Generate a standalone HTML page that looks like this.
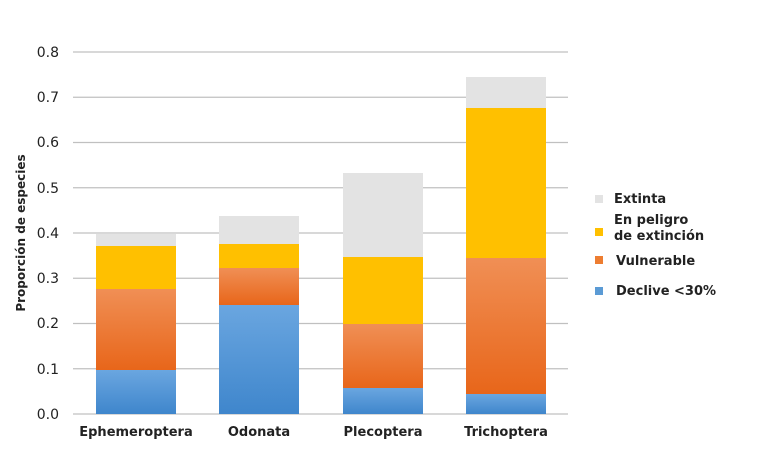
<!DOCTYPE html>
<html><head><meta charset="utf-8"><style>
body{margin:0;background:#fff}
svg{display:block;font-family:"DejaVu Sans","Liberation Sans",sans-serif}
</style></head><body>
<svg width="760" height="460" viewBox="0 0 760 460">
<defs>
<linearGradient id="b" x1="0" y1="0" x2="0" y2="1"><stop offset="0" stop-color="#6aa6e0"/><stop offset="1" stop-color="#3f86cc"/></linearGradient>
<linearGradient id="o" x1="0" y1="0" x2="0" y2="1"><stop offset="0" stop-color="#f08f55"/><stop offset="1" stop-color="#e8661a"/></linearGradient>
</defs>
<g stroke="#c0c0c0" stroke-width="1.3">
<line x1="73" y1="52" x2="568" y2="52"/><line x1="73" y1="97.25" x2="568" y2="97.25"/>
<line x1="73" y1="142.5" x2="568" y2="142.5"/><line x1="73" y1="187.75" x2="568" y2="187.75"/>
<line x1="73" y1="233" x2="568" y2="233"/><line x1="73" y1="278.25" x2="568" y2="278.25"/>
<line x1="73" y1="323.5" x2="568" y2="323.5"/><line x1="73" y1="368.75" x2="568" y2="368.75"/>
<line x1="73" y1="414" x2="568" y2="414"/>
</g>
<g font-size="14" fill="#222" text-anchor="end">
<text x="59" y="57">0.8</text><text x="59" y="102">0.7</text><text x="59" y="147">0.6</text><text x="59" y="193">0.5</text><text x="59" y="238">0.4</text><text x="59" y="283">0.3</text><text x="59" y="328">0.2</text><text x="59" y="374">0.1</text><text x="59" y="419">0.0</text>
</g>
<text transform="translate(25,233) rotate(-90)" font-size="12" font-weight="bold" fill="#222" text-anchor="middle">Proporción de especies</text>
<rect x="96" y="234" width="80" height="12" fill="#e3e3e3"/>
<rect x="96" y="246" width="80" height="43" fill="#ffc000"/>
<rect x="96" y="289" width="80" height="81" fill="url(#o)"/>
<rect x="96" y="370" width="80" height="44" fill="url(#b)"/>
<rect x="219" y="216" width="80" height="28" fill="#e3e3e3"/>
<rect x="219" y="244" width="80" height="24" fill="#ffc000"/>
<rect x="219" y="268" width="80" height="37" fill="url(#o)"/>
<rect x="219" y="305" width="80" height="109" fill="url(#b)"/>
<rect x="343" y="173" width="80" height="84" fill="#e3e3e3"/>
<rect x="343" y="257" width="80" height="67" fill="#ffc000"/>
<rect x="343" y="324" width="80" height="64" fill="url(#o)"/>
<rect x="343" y="388" width="80" height="26" fill="url(#b)"/>
<rect x="466" y="77" width="80" height="31" fill="#e3e3e3"/>
<rect x="466" y="108" width="80" height="150" fill="#ffc000"/>
<rect x="466" y="258" width="80" height="136" fill="url(#o)"/>
<rect x="466" y="394" width="80" height="20" fill="url(#b)"/>
<g font-size="13" font-weight="bold" fill="#222" text-anchor="middle">
<text x="136" y="436">Ephemeroptera</text><text x="259" y="436">Odonata</text><text x="383" y="436">Plecoptera</text><text x="506" y="436">Trichoptera</text>
</g>
<rect x="595" y="195" width="8" height="8" fill="#e3e3e3"/>
<rect x="595" y="228" width="8" height="8" fill="#ffc000"/>
<rect x="595" y="256" width="8" height="8" fill="#ed7d31"/>
<rect x="595" y="287" width="8" height="8" fill="#5b9bd5"/>
<g font-size="13" font-weight="bold" fill="#222">
<text x="614" y="203">Extinta</text>
<text x="614" y="224">En peligro</text><text x="614" y="240">de extinción</text>
<text x="616" y="265">Vulnerable</text>
<text x="616" y="295">Declive &lt;30%</text>
</g>
</svg>
</body></html>
